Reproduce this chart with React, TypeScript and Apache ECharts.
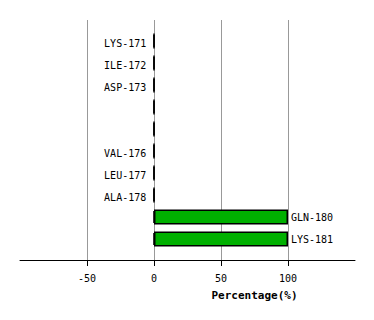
import React, { useEffect, useRef } from "react";
import * as echarts from "echarts";

const residues = ["LYS-171", "ILE-172", "ASP-173", "", "", "VAL-176", "LEU-177", "ALA-178", "GLN-180", "LYS-181"];
const percentages = [0, 0, 0, 0, 0, 0, 0, 0, 100, 100];
const tickValues = [-50, 0, 50, 100];
const axisName = "Percentage(%)";

const FONT = "DejaVu Sans Mono";

export default function App() {
  const ref = useRef<HTMLDivElement>(null);
  useEffect(() => {
    if (!ref.current) return;
    const chart = echarts.init(ref.current, null, { renderer: "svg" });
    const cats = residues.map((_, i) => String(i));
    chart.setOption({
      animation: false,
      backgroundColor: "#ffffff",
      grid: [
        { left: 20, top: 20, width: 335, height: 240 },
        { left: 20, top: 30, width: 335, height: 220 },
      ],
      xAxis: [
        {
          gridIndex: 0,
          type: "value",
          min: -100,
          max: 150,
          interval: 50,
          axisLine: { show: true, lineStyle: { color: "#000", width: 1 } },
          axisTick: { show: true, length: 6, customValues: tickValues, lineStyle: { color: "#000" } },
          axisLabel: {
            customValues: tickValues,
            margin: 13,
            color: "#000",
            fontFamily: FONT,
            fontSize: 10,
          },
          splitLine: { show: true, lineStyle: { color: "#999999", width: 1 } },
          name: axisName,
          nameLocation: "middle",
          nameGap: 30,
          nameTextStyle: {
            color: "#000",
            fontFamily: FONT,
            fontSize: 11,
            fontWeight: "bold",
            padding: [0, 0, 0, 134],
          },
        },
        {
          gridIndex: 1,
          type: "value",
          min: -100,
          max: 150,
          show: false,
        },
      ],
      yAxis: [
        { gridIndex: 0, type: "category", data: cats, inverse: true, show: false },
        { gridIndex: 1, type: "category", data: cats, inverse: true, show: false },
      ],
      series: [
        {
          type: "scatter",
          xAxisIndex: 1,
          yAxisIndex: 1,
          symbol: "rect",
          symbolSize: [2, 12],
          itemStyle: { color: "#000" },
          z: 3,
          data: percentages.map((_, i) => [0, i]),
        },
        {
          type: "bar",
          xAxisIndex: 1,
          yAxisIndex: 1,
          barWidth: 15,
          z: 4,
          itemStyle: { color: "#00b000", borderColor: "#000", borderWidth: 1.5 },
          data: percentages.map((v, i) => ({
            value: v,
            label: {
              show: residues[i] !== "",
              position: v > 0 ? "right" : "left",
              distance: v > 0 ? 3 : 7,
              offset: v > 0 ? [0, 0.5] : [0, 2],
              formatter: residues[i],
              color: "#000",
              fontFamily: FONT,
              fontSize: 10,
            },
          })),
        },
      ],
    });
    return () => chart.dispose();
  }, []);
  return (
    <div
      ref={ref}
      style={{ position: "fixed", left: 0, top: 0, width: 374, height: 320, background: "#fff" }}
    />
  );
}
